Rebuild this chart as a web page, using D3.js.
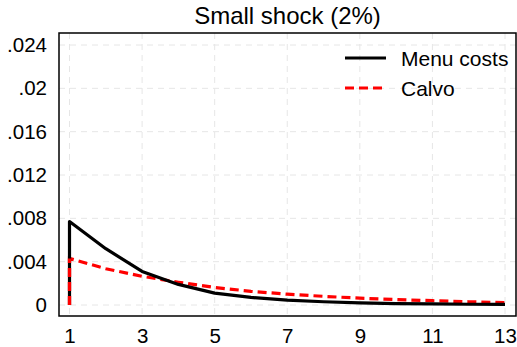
<!DOCTYPE html>
<html>
<head>
<meta charset="utf-8">
<script src="https://cdn.jsdelivr.net/npm/d3@7"></script>
<style>
  body { margin: 0; background: #fff; }
  svg { display: block; font-family: "Liberation Sans", Arial, sans-serif; }
</style>
</head>
<body>
<div id="chart"></div>
<script>
// periods (first point repeated at 0 so the line rises from the axis)
var periods = [1, 1, 2, 3, 4, 5, 6, 7, 8, 9, 10, 11, 12, 13];
var menuCosts = [0, .0077, .0052, .0031, .0019, .0011, .0007, .00045, .0003, .0002, .00013, .0001, .00007, .00005];
var calvo = [0, .0043, .00335, .00265, .0021, .00162, .00126, .001, .0008, .00063, .0005, .0004, .0003, .00022];
var xTicks = [1, 3, 5, 7, 9, 11, 13];
var yTicks = [0, .004, .008, .012, .016, .02, .024];
var yLabels = ["0", ".004", ".008", ".012", ".016", ".02", ".024"];

var width = 517, height = 347;
var box = { left: 59, top: 33, right: 516, bottom: 316 };

var svg = d3.select("#chart").append("svg").attr("width", width).attr("height", height);

var x = d3.scaleLinear().domain([1, 13]).range([69.5, 505]);
var y = d3.scaleLinear().domain([0, .024]).range([305, 45]);

// grid
svg.append("g").selectAll("line").data(xTicks).enter().append("line")
   .attr("x1", function(d) { return x(d); }).attr("x2", function(d) { return x(d); })
   .attr("y1", box.top).attr("y2", box.bottom)
   .attr("stroke", "#e6e6e6").attr("stroke-width", 1).attr("stroke-dasharray", "6,5");
svg.append("g").selectAll("line").data(yTicks).enter().append("line")
   .attr("y1", function(d) { return y(d); }).attr("y2", function(d) { return y(d); })
   .attr("x1", box.left).attr("x2", box.right)
   .attr("stroke", "#e6e6e6").attr("stroke-width", 1).attr("stroke-dasharray", "6,5");

// frame
svg.append("rect").attr("x", box.left).attr("y", box.top)
   .attr("width", box.right - box.left).attr("height", box.bottom - box.top)
   .attr("fill", "none").attr("stroke", "#000").attr("stroke-width", 1.5);

// axes
var xAxis = d3.axisBottom(x).tickValues(xTicks).tickSize(0).tickPadding(12);
svg.append("g").attr("transform", "translate(0," + box.bottom + ")").call(xAxis)
   .call(function(g) { g.select(".domain").remove(); })
   .selectAll("text").attr("font-size", "20.5px").attr("fill", "#000")
   .attr("font-family", "Liberation Sans, Arial, sans-serif");

var yAxis = d3.axisLeft(y).tickValues(yTicks).tickSize(0).tickPadding(12)
   .tickFormat(function(d, i) { return yLabels[i]; });
svg.append("g").attr("transform", "translate(" + box.left + ",0)").call(yAxis)
   .call(function(g) { g.select(".domain").remove(); })
   .selectAll("text").attr("font-size", "20.5px").attr("fill", "#000")
   .attr("font-family", "Liberation Sans, Arial, sans-serif");

// lines
var line = d3.line().x(function(d) { return x(d[0]); }).y(function(d) { return y(d[1]); });

svg.append("path").datum(d3.zip(periods, calvo)).attr("d", line)
   .attr("fill", "none").attr("stroke", "#ff0000").attr("stroke-width", 3.2)
   .attr("stroke-dasharray", "9,5");
svg.append("path").datum(d3.zip(periods, menuCosts)).attr("d", line)
   .attr("fill", "none").attr("stroke", "#000").attr("stroke-width", 3.2)
   .attr("stroke-linejoin", "round");
// red rise at period 1 sits on top of the black one in the reference
svg.append("path").datum(d3.zip(periods.slice(0, 2), calvo.slice(0, 2))).attr("d", line)
   .attr("fill", "none").attr("stroke", "#ff0000").attr("stroke-width", 3.2)
   .attr("stroke-dasharray", "9,5");

// title
svg.append("text").attr("x", (box.left + box.right) / 2).attr("y", 23.5)
   .attr("text-anchor", "middle").attr("font-size", "24px").text("Small shock (2%)");

// legend
var legend = [{ name: "Menu costs", color: "#000", dash: null, y: 58 },
              { name: "Calvo", color: "#ff0000", dash: "9,5", y: 88 }];
var lg = svg.append("g").selectAll("g").data(legend).enter().append("g");
lg.append("line").attr("x1", 345).attr("x2", 386)
   .attr("y1", function(d) { return d.y; }).attr("y2", function(d) { return d.y; })
   .attr("stroke", function(d) { return d.color; }).attr("stroke-width", 3.2)
   .attr("stroke-dasharray", function(d) { return d.dash; });
lg.append("text").attr("x", 401).attr("y", function(d) { return d.y + 7.5; })
   .attr("font-size", "21px").text(function(d) { return d.name; });
</script>
</body>
</html>
